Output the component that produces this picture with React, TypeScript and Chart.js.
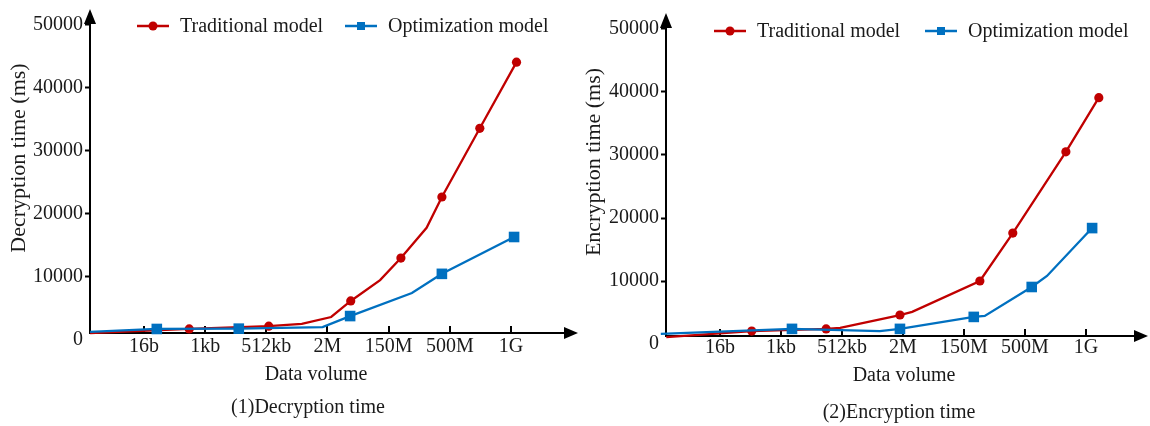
import React, { useEffect, useRef } from "react";
import { Chart, registerables } from "chart.js";

Chart.register(...registerables);

// ---------- data ----------
const categories = ["16b", "1kb", "512kb", "2M", "150M", "500M", "1G"];
const yTickValues = [0, 10000, 20000, 30000, 40000, 50000];
const seriesNames = ["Traditional model", "Optimization model"];

// (1) Decryption time
const decTradX = [0.12, 1.74, 3.04, 3.58, 4.06, 4.38, 4.86, 5.2, 5.62, 5.87, 6.49, 7.09];
const decTradY = [1100, 1750, 2200, 2550, 3650, 6200, 9500, 13000, 17800, 22700, 33600, 44100];
const decTradMarker = [false, true, true, false, false, true, false, true, false, true, true, true];
const decOptX = [0.12, 1.21, 2.55, 3.92, 4.37, 5.38, 5.87, 7.05];
const decOptY = [1300, 1750, 1800, 2050, 3800, 7450, 10500, 16350];
const decOptMarker = [false, true, true, false, true, false, true, true];

// (2) Encryption time
const encTradX = [0.12, 1.52, 2.74, 2.97, 3.95, 4.15, 5.26, 5.8, 6.67, 7.21];
const encTradY = [1100, 2050, 2400, 2550, 4600, 5100, 10000, 17600, 30500, 39100];
const encTradMarker = [false, true, true, false, true, false, true, true, true, true];
const encOptX = [0.03, 2.18, 3.62, 3.95, 5.16, 5.34, 6.11, 6.36, 7.1];
const encOptY = [1600, 2400, 2050, 2400, 4300, 4450, 9050, 10800, 18400];
const encOptMarker = [false, true, false, true, true, false, true, false, true];

// ---------- style ----------
const RED = "#C00000";
const BLUE = "#0070C0";
const TEXT = "#1a1a1a";
const FONT_FAMILY = "'Liberation Serif', 'Times New Roman', serif";
const FONT_SIZE = 20;
const Y_TITLE_SIZE = 22;

const decorPlugin = {
  id: "decor",
  beforeDatasetsDraw(chart: any, _a: any, o: any) {
    const { ctx, chartArea } = chart;
    const xs = chart.scales.x;
    const ay = Math.round(chartArea.bottom);
    const left = chartArea.left;
    const right = chartArea.right;
    ctx.save();
    ctx.strokeStyle = "#000";
    ctx.fillStyle = "#000";
    ctx.lineWidth = 2;
    // x axis
    ctx.beginPath();
    ctx.moveTo(left - 1, ay);
    ctx.lineTo(right - 10, ay);
    ctx.stroke();
    ctx.beginPath();
    ctx.moveTo(right, ay);
    ctx.lineTo(right - 14, ay - 6);
    ctx.lineTo(right - 14, ay + 6);
    ctx.closePath();
    ctx.fill();
    // y axis
    ctx.beginPath();
    ctx.moveTo(left, ay + 1);
    ctx.lineTo(left, o.arrowTop + 10);
    ctx.stroke();
    ctx.beginPath();
    ctx.moveTo(left, o.arrowTop);
    ctx.lineTo(left - 6, o.arrowTop + 15);
    ctx.lineTo(left + 6, o.arrowTop + 15);
    ctx.closePath();
    ctx.fill();
    // x tick marks (inside)
    xs.ticks.forEach((t: any) => {
      const px = Math.round(xs.getPixelForValue(t.value));
      ctx.beginPath();
      ctx.moveTo(px, ay);
      ctx.lineTo(px, ay - 7);
      ctx.stroke();
    });
    ctx.restore();
  },
  afterDraw(chart: any, _a: any, o: any) {
    const { ctx } = chart;
    ctx.save();
    ctx.font = `${FONT_SIZE}px ${FONT_FAMILY}`;
    ctx.fillStyle = TEXT;
    ctx.textAlign = "center";
    ctx.textBaseline = "middle";
    ctx.fillText(o.xTitle, o.xTitleX, o.xTitleY);
    ctx.fillText(o.caption, o.captionX, o.captionY);
    // legend
    ctx.textAlign = "left";
    chart.data.datasets.forEach((ds: any, i: number) => {
      const lx = o.legendX[i];
      const ly = o.legendY;
      ctx.strokeStyle = ds.borderColor;
      ctx.fillStyle = ds.borderColor;
      ctx.lineWidth = 2.5;
      ctx.beginPath();
      ctx.moveTo(lx, ly);
      ctx.lineTo(lx + 32, ly);
      ctx.stroke();
      if (ds.pointStyle === "rect") {
        ctx.fillRect(lx + 12, ly - 4, 8, 8);
      } else {
        ctx.beginPath();
        ctx.arc(lx + 16, ly, 4.5, 0, Math.PI * 2);
        ctx.fill();
      }
      ctx.fillStyle = TEXT;
      ctx.fillText(ds.label, lx + 43, ly + 1);
    });
    // y title
    ctx.font = `${Y_TITLE_SIZE}px ${FONT_FAMILY}`;
    ctx.textAlign = "center";
    ctx.translate(o.yTitleX, o.yTitleY);
    ctx.rotate(-Math.PI / 2);
    ctx.fillText(o.yTitle, 0, 0);
    ctx.restore();
  },
};

type PanelCfg = {
  tradX: number[];
  tradY: number[];
  tradM: boolean[];
  optX: number[];
  optY: number[];
  optM: boolean[];
  canvasW: number;
  areaLeft: number;
  areaRight: number;
  axisPixel: number;
  yMin: number;
  yMax: number;
  xMin: number;
  xMax: number;
  arrowTop: number;
  xTickPad: number;
  legendX: number[];
  legendY: number;
  yTitle: string;
  caption: string;
  xTitleX: number;
  xTitleY: number;
  captionX: number;
  captionY: number;
  yTitleX: number;
  yTitleY: number;
};

function zeroPadding(s: any) {
  s.paddingTop = 0;
  s.paddingBottom = 0;
  s.paddingLeft = 0;
  s.paddingRight = 0;
}

function makeConfig(p: PanelCfg): any {
  const font = { family: FONT_FAMILY, size: FONT_SIZE };
  return {
    type: "line",
    data: {
      datasets: [
        {
          label: seriesNames[0],
          data: p.tradX.map((x, i) => ({ x, y: p.tradY[i] })),
          borderColor: RED,
          backgroundColor: RED,
          borderWidth: 2.3,
          pointStyle: "circle",
          pointRadius: p.tradM.map((m) => (m ? 4.6 : 0)),
          pointBorderWidth: 0,
          pointBackgroundColor: RED,
          tension: 0,
          order: 2,
          clip: false,
        },
        {
          label: seriesNames[1],
          data: p.optX.map((x, i) => ({ x, y: p.optY[i] })),
          borderColor: BLUE,
          backgroundColor: BLUE,
          borderWidth: 2.3,
          pointStyle: "rect",
          pointRadius: p.optM.map((m) => (m ? 7.5 : 0)),
          pointBorderWidth: 0,
          pointBackgroundColor: BLUE,
          tension: 0,
          order: 1,
          clip: false,
        },
      ],
    },
    options: {
      responsive: false,
      maintainAspectRatio: false,
      animation: false,
      devicePixelRatio: 1,
      layout: {
        autoPadding: false,
        padding: { left: 0, top: 0, right: p.canvasW - p.areaRight, bottom: 0 },
      },
      scales: {
        x: {
          type: "linear",
          min: p.xMin,
          max: p.xMax,
          afterBuildTicks: (s: any) => {
            s.ticks = categories.map((_, i) => ({ value: i + 1 }));
          },
          afterFit: (s: any) => {
            s.height = 426 - p.axisPixel;
            zeroPadding(s);
          },
          ticks: {
            autoSkip: false,
            maxRotation: 0,
            padding: p.xTickPad,
            color: TEXT,
            font,
            callback: (v: number) => categories[Math.round(v) - 1] ?? "",
          },
          grid: { display: false, drawTicks: false },
          border: { display: false },
        },
        y: {
          type: "linear",
          min: p.yMin,
          max: p.yMax,
          afterBuildTicks: (s: any) => {
            s.ticks = yTickValues.map((v) => ({ value: v }));
          },
          afterFit: (s: any) => {
            s.width = p.areaLeft;
            zeroPadding(s);
          },
          ticks: {
            padding: 2,
            color: TEXT,
            font,
            callback: (v: number) => String(v),
          },
          grid: {
            drawOnChartArea: false,
            drawTicks: true,
            tickLength: 5,
            tickWidth: 2,
            tickColor: (c: any) => (c.tick && c.tick.value === 0 ? "rgba(0,0,0,0)" : "#000"),
          },
          border: { display: false },
        },
      },
      plugins: {
        tooltip: { enabled: false },
        legend: { display: false },
        decor: {
          arrowTop: p.arrowTop,
          legendX: p.legendX,
          legendY: p.legendY,
          xTitle: "Data volume",
          yTitle: p.yTitle,
          caption: p.caption,
          xTitleX: p.xTitleX,
          xTitleY: p.xTitleY,
          captionX: p.captionX,
          captionY: p.captionY,
          yTitleX: p.yTitleX,
          yTitleY: p.yTitleY,
        },
      },
    },
    plugins: [decorPlugin],
  };
}

function Panel({ cfg, left }: { cfg: PanelCfg; left: number }) {
  const ref = useRef<HTMLCanvasElement | null>(null);
  useEffect(() => {
    if (!ref.current) return;
    const chart = new Chart(ref.current, makeConfig(cfg));
    return () => chart.destroy();
  }, [cfg]);
  return (
    <canvas
      ref={ref}
      width={cfg.canvasW}
      height={426}
      style={{ position: "absolute", left, top: 0, width: cfg.canvasW, height: 426 }}
    />
  );
}

const leftCfg: PanelCfg = {
  tradX: decTradX,
  tradY: decTradY,
  tradM: decTradMarker,
  optX: decOptX,
  optY: decOptY,
  optM: decOptMarker,
  canvasW: 580,
  areaLeft: 90,
  areaRight: 578,
  axisPixel: 333,
  yMin: 1111,
  yMax: 53968,
  xMin: 0.118,
  xMax: 8.095,
  arrowTop: 9,
  xTickPad: 2,
  legendX: [137, 345],
  legendY: 26,
  yTitle: "Decryption time (ms)",
  caption: "(1)Decryption time",
  xTitleX: 316,
  xTitleY: 375,
  captionX: 308,
  captionY: 408,
  yTitleX: 19,
  yTitleY: 158,
};

const rightCfg: PanelCfg = {
  tradX: encTradX,
  tradY: encTradY,
  tradM: encTradMarker,
  optX: encOptX,
  optY: encOptY,
  optM: encOptMarker,
  canvasW: 575,
  areaLeft: 91,
  areaRight: 573,
  axisPixel: 336,
  yMin: 1270,
  yMax: 54603,
  xMin: 0.115,
  xMax: 8.016,
  arrowTop: 13,
  xTickPad: 0,
  legendX: [139, 350],
  legendY: 31,
  yTitle: "Encryption time (ms)",
  caption: "(2)Encryption time",
  xTitleX: 329,
  xTitleY: 376,
  captionX: 324,
  captionY: 413,
  yTitleX: 19,
  yTitleY: 162,
};

export default function App() {
  return (
    <div
      style={{
        position: "absolute",
        left: 0,
        top: 0,
        width: 1150,
        height: 426,
        background: "#fff",
        overflow: "hidden",
      }}
    >
      <Panel cfg={leftCfg} left={0} />
      <Panel cfg={rightCfg} left={575} />
    </div>
  );
}
